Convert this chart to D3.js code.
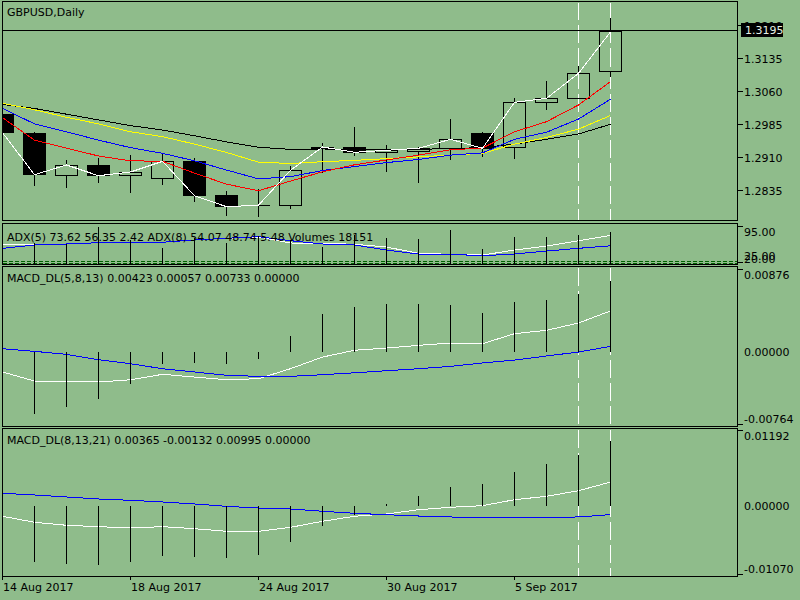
<!DOCTYPE html>
<html>
<head>
<meta charset="utf-8">
<script src="https://cdn.jsdelivr.net/npm/d3@7"></script>
<style>
  html, body { margin: 0; padding: 0; background: #8fbc8b; }
  svg { display: block; font-family: "DejaVu Sans", sans-serif; font-size: 11px; }
</style>
</head>
<body>
<svg id="chart" width="800" height="600"></svg>
<script>
// Bars (daily)
const dates = ['2017-08-14','2017-08-15','2017-08-16','2017-08-17','2017-08-18',
  '2017-08-21','2017-08-22','2017-08-23','2017-08-24','2017-08-25',
  '2017-08-28','2017-08-29','2017-08-30','2017-08-31','2017-09-01',
  '2017-09-04','2017-09-05','2017-09-06','2017-09-07','2017-09-08'];
const open  = [1.30084,1.29652,1.28682,1.28925,1.28682,1.28623,1.29016,1.28243,1.28005,1.28009,
               1.29289,1.29334,1.29214,1.29236,1.29305,1.29652,1.29327,1.30350,1.30432,1.31055];
const high  = [1.30200,1.29686,1.29039,1.29091,1.29152,1.29175,1.29084,1.28334,1.28386,1.28909,
               1.29425,1.29795,1.29380,1.29334,1.29970,1.29675,1.30441,1.30834,1.31175,1.32259];
const low   = [1.29600,1.28455,1.28409,1.28523,1.28295,1.28470,1.28091,1.27773,1.27736,1.27932,
               1.28736,1.29136,1.28766,1.28523,1.29039,1.29114,1.29068,1.30182,1.30425,1.30918];
const close = [1.29659,1.28705,1.28925,1.28682,1.28766,1.29009,1.28227,1.27977,1.28012,1.28805,
               1.29334,1.29214,1.29259,1.29305,1.29509,1.29305,1.30350,1.30441,1.31009,1.31950];

// Moving averages on the price chart
const maRed    = [1.3000,1.2949,1.2931,1.2913,1.2902,1.2901,1.2874,1.2849,1.2834,1.2856,
                  1.2877,1.2893,1.2904,1.2915,1.2927,1.2931,1.2968,1.2991,1.3029,1.3082];
const maBlue   = [1.3021,1.2986,1.2968,1.2949,1.2932,1.2919,1.2902,1.2881,1.2861,1.2866,
                  1.2880,1.2889,1.2898,1.2905,1.2915,1.2920,1.2951,1.2967,1.2997,1.3042];
const maYellow = [1.3033,1.3018,1.3001,1.2986,1.2968,1.2957,1.2940,1.2921,1.2899,1.2896,
                  1.2900,1.2903,1.2907,1.2911,1.2915,1.2919,1.2940,1.2955,1.2974,1.3005];
const maBlack  = [1.3030,1.3021,1.3008,1.2995,1.2982,1.2972,1.2959,1.2945,1.2933,1.2928,
                  1.2929,1.2927,1.2927,1.2928,1.2930,1.2932,1.2940,1.2951,1.2963,1.2985];
const priceTicks = [1.3210, 1.3135, 1.3060, 1.2985, 1.2910, 1.2835];
const bidPrice = 1.3195;

// ADX / volumes window
const adxFast = [57.5,55.6,57.5,59.9,60.7,60.7,65.0,68.2,70.6,59.4,58.8,57.0,51.8,40.0,38.2,36.8,46.2,53.7,63.7,73.62];
const adxSlow = [49.4,55.6,57.5,59.9,60.7,60.7,65.0,68.2,71.2,63.7,57.5,55.6,46.2,38.7,38.2,35.5,38.7,44.3,49.4,54.07];
const volumes = [14000,11690,11300,20600,13530,8910,14480,11690,15920,13530,
                 9470,16310,14480,14090,19100,8520,15370,15370,16310,18151];
const adxLevels = [25, 21.5];

// MACD_DL(5,8,13)
const macd1Main   = [-0.00207,-0.00300,-0.00310,-0.00310,-0.00287,-0.00231,-0.00259,-0.00287,-0.00276,-0.00173,
                     -0.00053,0.00017,0.00040,0.00068,0.00092,0.00085,0.00188,0.00223,0.00298,0.00423];
const macd1Signal = [0.00033,0.00006,-0.00025,-0.00080,-0.00122,-0.00173,-0.00207,-0.00241,-0.00252,-0.00252,
                     -0.00235,-0.00215,-0.00194,-0.00173,-0.00149,-0.00114,-0.00084,-0.00042,-0.00001,0.00057];
const macd1Hist   = [-0.00650,-0.00637,-0.00565,-0.00483,-0.00328,-0.00122,-0.00111,-0.00122,-0.00070,0.00164,
                     0.00388,0.00463,0.00491,0.00491,0.00481,0.00401,0.00515,0.00532,0.00594,0.00733];

// MACD_DL(8,13,21)
const macd2Main   = [-0.00157,-0.00249,-0.00295,-0.00316,-0.00336,-0.00316,-0.00347,-0.00387,-0.00387,-0.00326,
                     -0.00234,-0.00157,-0.00122,-0.00057,-0.00020,0.00005,0.00096,0.00148,0.00234,0.00365];
const macd2Signal = [0.00194,0.00168,0.00138,0.00107,0.00087,0.00061,0.00031,-0.00005,-0.00031,-0.00046,
                     -0.00081,-0.00112,-0.00133,-0.00153,-0.00168,-0.00183,-0.00183,-0.00173,-0.00168,-0.00132];
const macd2Hist   = [-0.00830,-0.00856,-0.00882,-0.00897,-0.00856,-0.00760,-0.00775,-0.00790,-0.00749,-0.00546,
                     -0.00301,-0.00133,0.00031,0.00153,0.00290,0.00336,0.00524,0.00642,0.00775,0.00995];

const dateTicks = ['2017-08-14','2017-08-18','2017-08-24','2017-08-30','2017-09-05'];
const dateTickLabels = ['14 Aug 2017','18 Aug 2017','24 Aug 2017','30 Aug 2017','5 Sep 2017'];
const markerDates = ['2017-09-07','2017-09-08'];

// Layout
const left = 2.5, right = 737.5;
const panels = [
  {id: 'main',  top: 1.5,   bottom: 220.5, dashed: true},
  {id: 'adx',   top: 223.5, bottom: 264.5, dashed: false},
  {id: 'macd1', top: 266.5, bottom: 426.5, dashed: true},
  {id: 'macd2', top: 428.5, bottom: 576.5, dashed: true}
];

const svg = d3.select('#chart').attr('shape-rendering', 'crispEdges');

const x = d3.scalePoint().domain(dates).range([2.3, 610.3]);
const px = d => Math.round(x(d)) + 0.5;

const priceY = d3.scaleLinear().domain([1.27675, 1.32630]).range([220, 2]);
const adxY   = d3.scaleLinear().domain([20, 95]).range([264, 224]);
const volY   = d3.scaleLinear().domain([0, 22440]).range([264.3, 224]);
const macd1Y = d3.scaleLinear().domain([-0.00764, 0.00876]).range([426, 267]);
const macd2Y = d3.scaleLinear().domain([-0.01070, 0.01192]).range([576, 428]);

// clip paths per panel
const defs = svg.append('defs');
panels.forEach(p => {
  defs.append('clipPath').attr('id', 'clip-' + p.id)
    .append('rect')
      .attr('x', left + 0.5).attr('y', p.top + 0.5)
      .attr('width', right - left - 1).attr('height', p.bottom - p.top - 1);
});
const layer = id => svg.append('g').attr('clip-path', `url(#clip-${id})`);

// dashed white markers (drawn first, behind everything)
panels.filter(p => p.dashed).forEach(p => {
  layer(p.id).selectAll('line')
    .data(markerDates)
    .join('line')
      .attr('x1', px).attr('x2', px)
      .attr('y1', p.top + 1).attr('y2', p.bottom)
      .attr('stroke', '#fff')
      .attr('stroke-dasharray', '18,5');
});

// --- price chart ---
const main = layer('main');
const bars = dates.map((d, i) => ({d, o: open[i], h: high[i], l: low[i], c: close[i]}));

// wicks above and below the body
main.selectAll('line.wick-hi')
  .data(bars)
  .join('line')
    .attr('class', 'wick-hi')
    .attr('x1', b => px(b.d)).attr('x2', b => px(b.d))
    .attr('y1', b => priceY(b.h)).attr('y2', b => priceY(Math.max(b.o, b.c)))
    .attr('stroke', '#000');
main.selectAll('line.wick-lo')
  .data(bars)
  .join('line')
    .attr('class', 'wick-lo')
    .attr('x1', b => px(b.d)).attr('x2', b => px(b.d))
    .attr('y1', b => priceY(Math.min(b.o, b.c))).attr('y2', b => priceY(b.l))
    .attr('stroke', '#000');

main.selectAll('rect.body')
  .data(bars)
  .join('rect')
    .attr('class', 'body')
    .attr('x', b => px(b.d) - 11)
    .attr('width', 22)
    .attr('y', b => priceY(Math.max(b.o, b.c)))
    .attr('height', b => Math.max(0.1, priceY(Math.min(b.o, b.c)) - priceY(Math.max(b.o, b.c))))
    .attr('fill', b => b.c < b.o ? '#000' : 'none')
    .attr('stroke', '#000');

const priceLine = d3.line().x((v, i) => px(dates[i])).y(v => priceY(v));
[[maBlack, '#000'], [maYellow, '#ff0'], [maBlue, '#00f'], [maRed, '#f00'], [close, '#fff']]
  .forEach(([series, color]) => {
    main.append('path')
      .attr('d', priceLine(series))
      .attr('fill', 'none')
      .attr('stroke', color);
  });

// bid line
const bidY = priceY(bidPrice);
svg.append('line')
  .attr('x1', left).attr('x2', right)
  .attr('y1', Math.floor(bidY) - 0.5).attr('y2', Math.floor(bidY) - 0.5)
  .attr('stroke', '#000');

// --- ADX / volumes ---
const adx = layer('adx');
adx.selectAll('line.level')
  .data(adxLevels)
  .join('line')
    .attr('class', 'level')
    .attr('x1', left).attr('x2', right)
    .attr('y1', v => Math.round(adxY(v)) + 0.5).attr('y2', v => Math.round(adxY(v)) + 0.5)
    .attr('stroke', '#006400')
    .attr('stroke-dasharray', '4,2');
const adxLine = d3.line().x((v, i) => px(dates[i])).y(v => adxY(v));
adx.append('path').attr('d', adxLine(adxFast)).attr('fill', 'none').attr('stroke', '#fff');
adx.append('path').attr('d', adxLine(adxSlow)).attr('fill', 'none').attr('stroke', '#00f');
adx.selectAll('line.vol')
  .data(volumes)
  .join('line')
    .attr('class', 'vol')
    .attr('x1', (v, i) => px(dates[i])).attr('x2', (v, i) => px(dates[i]))
    .attr('y1', volY(0)).attr('y2', v => volY(v))
    .attr('stroke', '#000');

// --- MACD windows ---
function drawMacd(id, yScale, mainSeries, signalSeries, hist) {
  const g = layer(id);
  const line = d3.line().x((v, i) => px(dates[i])).y(v => yScale(v));
  g.append('path').attr('d', line(mainSeries)).attr('fill', 'none').attr('stroke', '#fff');
  g.append('path').attr('d', line(signalSeries)).attr('fill', 'none').attr('stroke', '#00f');
  g.selectAll('line.hist')
    .data(hist)
    .join('line')
      .attr('class', 'hist')
      .attr('x1', (v, i) => px(dates[i])).attr('x2', (v, i) => px(dates[i]))
      .attr('y1', yScale(0)).attr('y2', v => yScale(v))
      .attr('stroke', '#000');
}
drawMacd('macd1', macd1Y, macd1Main, macd1Signal, macd1Hist);
drawMacd('macd2', macd2Y, macd2Main, macd2Signal, macd2Hist);

// --- frames ---
panels.forEach(p => {
  svg.append('rect')
    .attr('x', left).attr('y', p.top)
    .attr('width', right - left).attr('height', p.bottom - p.top)
    .attr('fill', 'none').attr('stroke', '#000');
});

// --- right axis labels ---
const axisText = (y, label) => svg.append('text')
  .attr('x', 744).attr('y', y).attr('dy', '0.36em')
  .attr('fill', '#000').text(label);
const axisTick = y => svg.append('line')
  .attr('x1', right).attr('x2', right + 5)
  .attr('y1', Math.round(y) + 0.5).attr('y2', Math.round(y) + 0.5)
  .attr('stroke', '#000');

priceTicks.forEach(p => {
  axisTick(priceY(p));
  axisText(priceY(p) + 0.5, p.toFixed(4));
});

// bid price label, drawn over the 1.3210 label as in the terminal
svg.append('rect')
  .attr('x', 741).attr('y', Math.floor(bidY) - 8)
  .attr('width', 42).attr('height', 13.5)
  .attr('fill', '#000');
svg.append('text')
  .attr('x', 745).attr('y', Math.floor(bidY) - 1).attr('dy', '0.36em')
  .attr('fill', '#e4eee4').text(bidPrice.toFixed(4));

// ADX scale labels (bottom ones overlap as in the terminal)
axisTick(226); axisText(232.3, adxY.domain()[1].toFixed(2));
axisTick(262); axisText(255.8, adxLevels[0].toFixed(2)); axisText(258.7, adxY.domain()[0].toFixed(2));

const macdLabels = (yScale, top, bottom) => {
  const [lo, hi] = yScale.domain();
  axisTick(top + 2); axisText(top + 7.7, hi.toFixed(5));
  axisText(yScale(0), (0).toFixed(5));
  axisTick(bottom - 2); axisText(bottom - 7, lo.toFixed(5));
};
macdLabels(macd1Y, 267, 426);
macdLabels(macd2Y, 428, 576);

// --- time axis ---
dateTicks.forEach((d, i) => {
  const tx = px(d);
  svg.append('line')
    .attr('x1', tx).attr('x2', tx).attr('y1', 576.5).attr('y2', 580)
    .attr('stroke', '#000');
  svg.append('text')
    .attr('x', tx + 0.5).attr('y', 587.3).attr('dy', '0.36em')
    .attr('fill', '#000').text(dateTickLabels[i]);
});

// --- window captions ---
const caption = (y, label) => svg.append('text')
  .attr('x', 7).attr('y', y).attr('dy', '0.36em')
  .attr('fill', '#000').text(label);
caption(11.7, 'GBPUSD,Daily');
caption(236.7, 'ADX(5) 73.62 56.35 2.42 ADX(8) 54.07 48.74 5.48 Volumes 18151');
caption(278, 'MACD_DL(5,8,13) 0.00423 0.00057 0.00733 0.00000');
caption(439.7, 'MACD_DL(8,13,21) 0.00365 -0.00132 0.00995 0.00000');
</script>
</body>
</html>
